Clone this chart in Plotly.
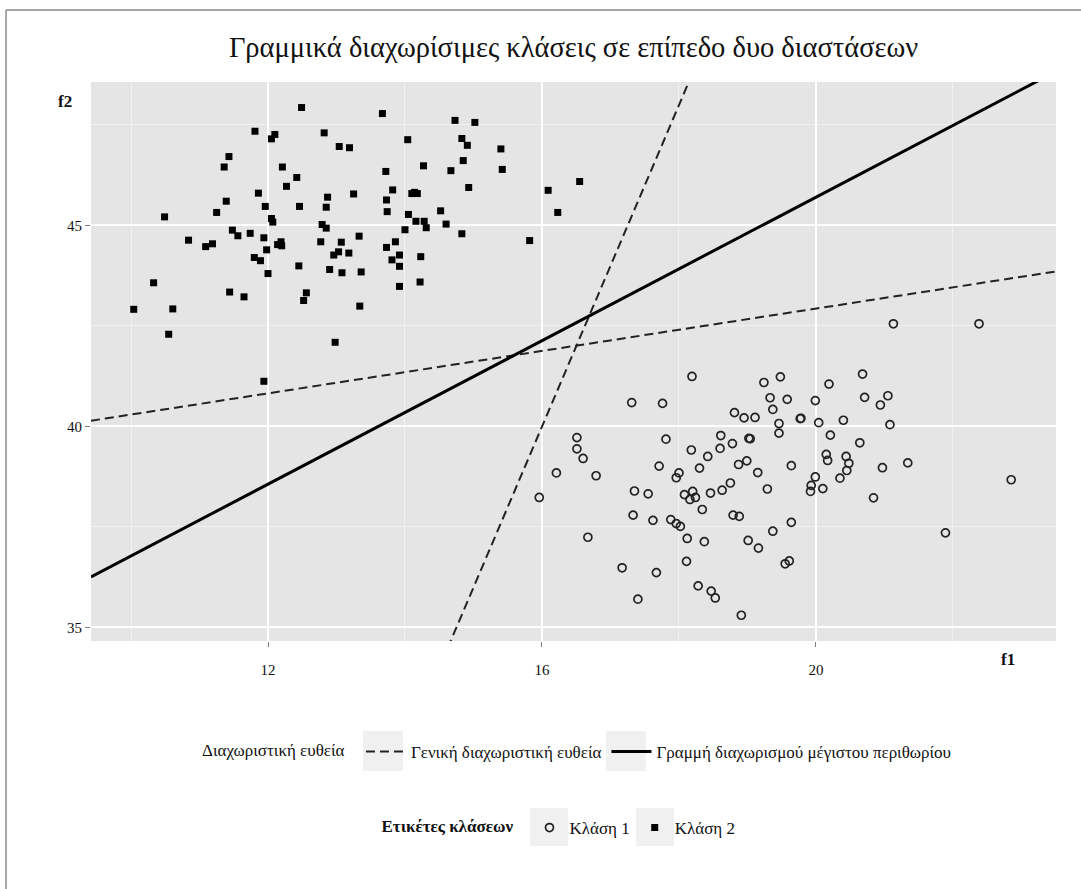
import plotly.graph_objects as go
import numpy as np

# ---------------- data ----------------
class1_f1 = [18.19, 17.31, 17.76, 19.24, 19.48, 19.33, 19.58, 19.37, 18.81, 18.95,
             19.11, 19.46, 19.46, 16.51, 16.51, 16.60, 16.21, 16.79, 17.81, 18.61,
             19.04, 19.02, 18.78, 18.60, 18.18, 18.42, 17.71, 18.30, 18.87, 18.99,
             19.15, 18.00, 17.96, 19.64, 17.35, 17.55, 18.08, 18.20, 18.16, 18.24,
             18.46, 18.63, 18.75, 19.29, 15.96, 18.34, 17.33, 17.62, 17.88, 17.96,
             18.02, 18.79, 18.88, 19.64, 16.67, 18.12, 18.37, 19.01, 19.16, 19.37,
             19.55, 19.61, 17.17, 17.67, 18.11, 18.28, 18.47, 18.53, 17.40, 18.91,
             21.13, 22.38, 20.68, 20.19, 19.99, 20.71, 21.05, 20.94, 19.77, 19.78,
             20.04, 20.40, 21.08, 20.21, 20.64, 20.15, 20.17, 20.44, 20.48, 20.45,
             20.97, 21.34, 19.99, 19.93, 19.92, 20.10, 20.35, 20.84, 22.85, 21.89]
class1_f2 = [41.24, 40.59, 40.57, 41.09, 41.23, 40.71, 40.67, 40.42, 40.34, 40.21,
             40.22, 40.07, 39.83, 39.72, 39.44, 39.20, 38.84, 38.77, 39.68, 39.77,
             39.69, 39.70, 39.57, 39.45, 39.41, 39.25, 39.01, 38.96, 39.05, 39.14,
             38.85, 38.84, 38.72, 39.02, 38.39, 38.32, 38.30, 38.38, 38.18, 38.23,
             38.34, 38.41, 38.59, 38.44, 38.23, 37.93, 37.79, 37.66, 37.68, 37.58,
             37.51, 37.79, 37.76, 37.61, 37.24, 37.21, 37.13, 37.16, 36.97, 37.39,
             36.58, 36.65, 36.48, 36.36, 36.64, 36.03, 35.90, 35.73, 35.70, 35.30,
             42.55, 42.55, 41.30, 41.05, 40.64, 40.72, 40.76, 40.53, 40.19, 40.20,
             40.09, 40.15, 40.04, 39.78, 39.59, 39.30, 39.15, 39.25, 39.08, 38.90,
             38.97, 39.09, 38.74, 38.53, 38.38, 38.45, 38.71, 38.22, 38.67, 37.35]

class2_f1 = [12.49, 11.81, 12.10, 12.05, 12.82, 11.43, 11.36, 12.21, 12.42, 12.27,
             11.86, 12.87, 11.39, 11.25, 11.96, 12.46, 12.85, 10.49, 12.05, 12.07,
             12.79, 12.85, 11.48, 11.56, 11.74, 11.94, 10.84, 11.09, 11.19, 12.14,
             12.19, 12.20, 11.98, 12.77, 11.80, 11.89, 12.00, 12.45, 12.90, 10.33,
             11.44, 11.65, 12.56, 12.52, 10.04, 10.61, 10.55, 11.94, 13.67, 14.73,
             15.02, 14.04, 13.04, 13.19, 14.83, 14.91, 15.40, 14.85, 14.27, 14.67,
             15.42, 13.72, 16.55, 16.09, 14.93, 13.82, 14.10, 14.14, 14.18, 13.25,
             13.73, 16.23, 13.74, 14.52, 14.05, 14.16, 14.28, 14.31, 14.60, 14.00,
             14.83, 13.33, 15.82, 13.07, 13.86, 13.73, 12.96, 13.03, 13.18, 13.92,
             13.81, 14.23, 13.92, 13.08, 13.36, 13.92, 14.22, 13.34, 12.98]
class2_f2 = [47.93, 47.34, 47.26, 47.15, 47.30, 46.71, 46.45, 46.45, 46.19, 45.97,
             45.80, 45.70, 45.60, 45.32, 45.47, 45.47, 45.45, 45.21, 45.17, 45.08,
             45.02, 44.93, 44.88, 44.74, 44.80, 44.69, 44.63, 44.47, 44.54, 44.52,
             44.59, 44.49, 44.39, 44.59, 44.20, 44.12, 43.80, 43.99, 43.90, 43.57,
             43.34, 43.22, 43.32, 43.13, 42.91, 42.92, 42.29, 41.12, 47.78, 47.61,
             47.56, 47.13, 46.96, 46.93, 47.16, 46.99, 46.90, 46.61, 46.48, 46.36,
             46.39, 46.34, 46.09, 45.87, 45.94, 45.88, 45.79, 45.82, 45.79, 45.78,
             45.63, 45.32, 45.34, 45.36, 45.27, 45.10, 45.10, 44.94, 45.03, 44.89,
             44.79, 44.73, 44.62, 44.58, 44.59, 44.45, 44.26, 44.34, 44.31, 44.26,
             44.14, 44.22, 43.98, 43.82, 43.84, 43.48, 43.59, 42.99, 42.09]

# separating lines: f2 = intercept + slope * f1
general_intercepts = [37.655, -24.008]
general_slopes = [0.2637, 4.0]
maxmargin_intercept = 27.85
maxmargin_slope = 0.8925

x_range = [9.416, 23.504]
y_range = [34.659, 48.565]
x_ticks = [12, 16, 20]
y_ticks = [35, 40, 45]

title_text = "Γραμμικά διαχωρίσιμες κλάσεις σε επίπεδο δυο διαστάσεων"
line_legend_title = "Διαχωριστική ευθεία"
general_name = "Γενική διαχωριστική ευθεία"
maxmargin_name = "Γραμμή διαχωρισμού μέγιστου περιθωρίου"
class_legend_title = "<b>Ετικέτες κλάσεων</b>"
class_names = ["Κλάση 1", "Κλάση 2"]

SERIF = "Liberation Serif, Times New Roman, serif"

# ---------------- figure ----------------
fig = go.Figure()
xs = np.array(x_range)

for i, (a, b) in enumerate(zip(general_intercepts, general_slopes)):
    fig.add_trace(go.Scatter(
        x=xs, y=a + b * xs, mode="lines",
        line=dict(color="#222222", width=2, dash="9px,5px"),
        name=general_name, legendgroup="general", showlegend=(i == 0),
        legend="legend", hoverinfo="skip"))

fig.add_trace(go.Scatter(
    x=xs, y=maxmargin_intercept + maxmargin_slope * xs, mode="lines",
    line=dict(color="#000000", width=3),
    name=maxmargin_name, legend="legend", hoverinfo="skip"))

fig.add_trace(go.Scatter(
    x=class1_f1, y=class1_f2, mode="markers", name=class_names[0],
    marker=dict(symbol="circle-open", size=8, color="#222222", line=dict(width=1.7)),
    legend="legend2"))
fig.add_trace(go.Scatter(
    x=class2_f1, y=class2_f2, mode="markers", name=class_names[1],
    marker=dict(symbol="square", size=7, color="#000000"),
    legend="legend2"))

W, H = 1081, 889
ml, mr, mt, mb = 91, 25, 82, 248
pw, ph = W - ml - mr, H - mt - mb

def px2x(px):
    return (px - ml) / pw

def py2y(py):
    return (H - mb - py) / ph

LEG_FONT = 17

fig.update_layout(
    width=W, height=H,
    margin=dict(l=ml, r=mr, t=mt, b=mb, autoexpand=False),
    paper_bgcolor="white",
    plot_bgcolor="#E5E5E5",
    font=dict(family=SERIF, size=LEG_FONT, color="#111111"),
    title=dict(text=title_text, x=0.5, xref="paper", xanchor="center",
               y=1 - 47 / H, yanchor="middle",
               font=dict(family=SERIF, size=28.5, color="#111111")),
    legend=dict(orientation="h", x=px2x(578), xanchor="center",
                y=py2y(752), yanchor="middle",
                title=dict(text=line_legend_title + "  ", side="left",
                           font=dict(family=SERIF, size=LEG_FONT)),
                font=dict(family=SERIF, size=LEG_FONT),
                itemwidth=40, bgcolor="rgba(0,0,0,0)"),
    legend2=dict(orientation="h", x=px2x(560), xanchor="center",
                 y=py2y(828), yanchor="middle",
                 title=dict(text=class_legend_title + "  ", side="left",
                            font=dict(family=SERIF, size=LEG_FONT)),
                 font=dict(family=SERIF, size=LEG_FONT),
                 itemwidth=30, bgcolor="rgba(0,0,0,0)"),
    showlegend=True,
)

fig.update_xaxes(
    range=x_range, tickvals=x_ticks, showline=False, zeroline=False,
    showgrid=True, gridcolor="white", gridwidth=1.6,
    ticks="outside", ticklen=5, tickcolor="#7f7f7f", tickwidth=1,
    ticklabelstandoff=10,
    tickfont=dict(family=SERIF, size=15, color="#111111"),
    minor=dict(dtick=2, tick0=0, showgrid=True, gridcolor="#F2F2F2",
               gridwidth=0.6, ticks=""),
)
fig.update_yaxes(
    range=y_range, tickvals=y_ticks, showline=False, zeroline=False,
    showgrid=True, gridcolor="white", gridwidth=1.6,
    ticks="outside", ticklen=5, tickcolor="#7f7f7f", tickwidth=1,
    tickfont=dict(family=SERIF, size=15, color="#111111"),
    minor=dict(dtick=2.5, tick0=35, showgrid=True, gridcolor="#F2F2F2",
               gridwidth=0.6, ticks=""),
)

# axis titles placed ggplot-style
fig.add_annotation(text="<b>f1</b>", xref="paper", yref="paper",
                   x=px2x(1017), y=py2y(671), showarrow=False,
                   font=dict(family=SERIF, size=17, color="#111111"))
fig.add_annotation(text="<b>f2</b>", xref="paper", yref="paper",
                   x=px2x(56), y=py2y(90), showarrow=False,
                   font=dict(family=SERIF, size=17, color="#111111"))

# light grey legend key backgrounds (ggplot style)
for (x0, x1, y0, y1) in [(363, 403, 731, 771), (606, 646, 731, 771),
                         (530, 568, 808, 846), (636, 674, 808, 846)]:
    fig.add_shape(type="rect", xref="paper", yref="paper", layer="below",
                  x0=px2x(x0), x1=px2x(x1), y0=py2y(y1), y1=py2y(y0),
                  fillcolor="#F0F0F0", line=dict(width=0))

# outer frame (left and top edges visible in reference)
fig.add_shape(type="line", xref="paper", yref="paper",
              x0=px2x(6), x1=px2x(6), y0=py2y(10), y1=py2y(H + 5),
              line=dict(color="#8a8a8a", width=1.5))
fig.add_shape(type="line", xref="paper", yref="paper",
              x0=px2x(6), x1=px2x(W + 5), y0=py2y(10), y1=py2y(10),
              line=dict(color="#8a8a8a", width=1.5))

fig.write_html("out.html")
